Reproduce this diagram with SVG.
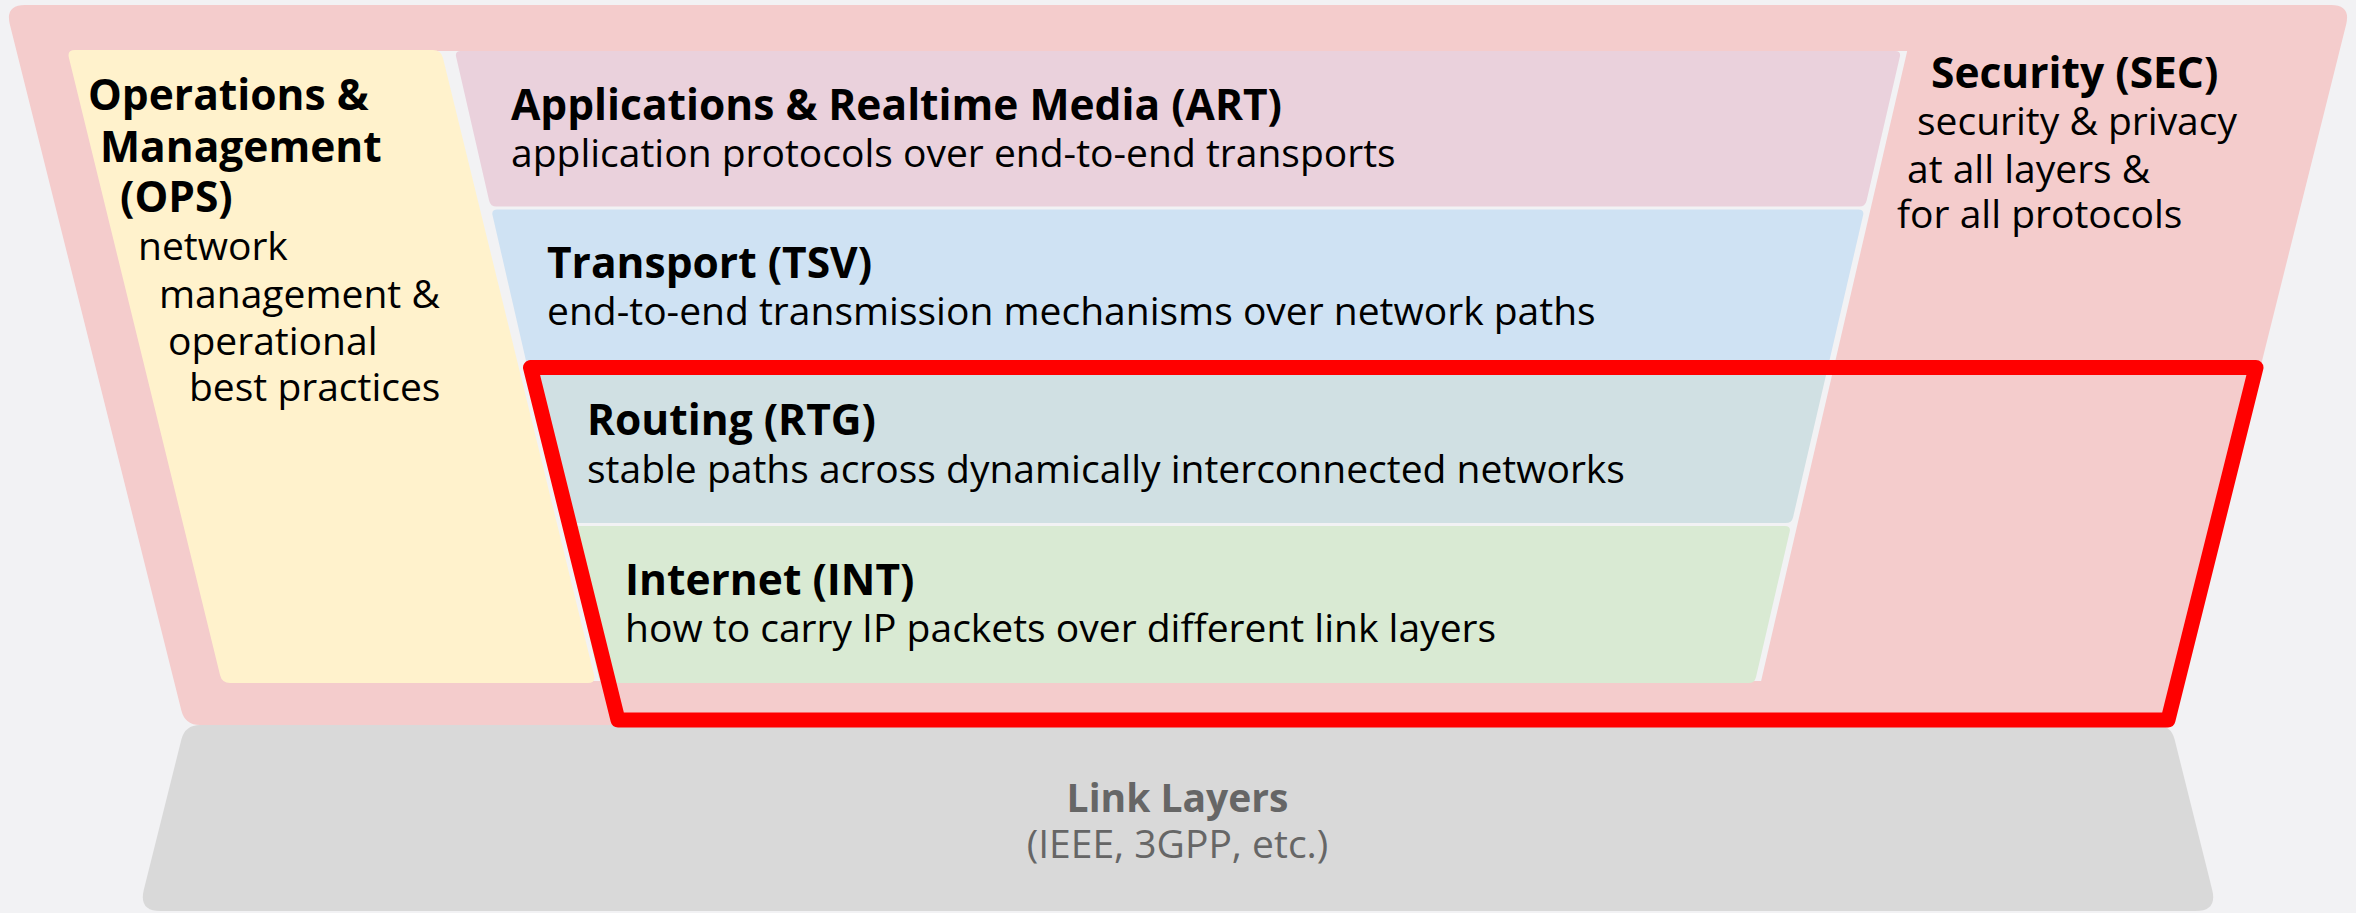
<svg xmlns="http://www.w3.org/2000/svg" width="2356" height="913" viewBox="0 0 2356 913">
  <style>
    text { font-family: "Open Sans", "Noto Sans", "DejaVu Sans", sans-serif; font-size: 39px; fill: #000; }
    .b { font-weight: bold; font-size: 42.5px; }
    .lb { font-weight: bold; }
    .link { fill: #666666; }
  </style>
  <rect id="background" x="0" y="0" width="2356" height="913" fill="#f2f2f4"/>

  <g id="sec">
    <path d="M 25,5 L 2331,5 Q 2351,5 2346.15,24.4 L 2174.64,710.45 Q 2171,725 2156,725 L 200,725 Q 185,725 181.36,710.45 L 9.85,24.4 Q 5,5 25,5 Z" fill="#f4cccc"/>
    <polygon points="435,51 1907.2,51 1761.1,681 589.6,681" fill="#f2f2f4"/>
    <text class="b" x="1931" y="88">Security (SEC)</text>
    <text x="1917" y="135">security &amp; privacy</text>
    <text x="1907" y="183">at all layers &amp;</text>
    <text x="1897" y="228">for all protocols</text>
  </g>

  <g id="link">
    <path d="M 200,725 L 2156,725 Q 2171,725 2174.64,739.55 L 2212.17,889.66 Q 2217.5,911 2195.5,911 L 160.5,911 Q 138.5,911 143.83,889.66 L 181.36,739.55 Q 185,725 200,725 Z" fill="#d9d9d9"/>
    <text class="lb link" x="1177.5" y="812" text-anchor="middle">Link Layers</text>
    <text class="link" x="1177.5" y="858" text-anchor="middle">(IEEE, 3GPP, etc.)</text>
  </g>

  <g id="ops">
    <path d="M 75,50 L 433,50 Q 441,50 442.9,57.77 L 594.1,675.23 Q 596,683 588,683 L 230,683 Q 222,683 220.1,675.23 L 68.9,57.77 Q 67,50 75,50 Z" fill="#fff2cc"/>
    <text class="b" x="88" y="110">Operations &amp;</text>
    <text class="b" x="100" y="162">Management</text>
    <text class="b" x="120" y="212">(OPS)</text>
    <text x="138" y="260">network</text>
    <text x="159" y="308">management &amp;</text>
    <text x="168" y="355">operational</text>
    <text x="189" y="401">best practices</text>
  </g>

  <g id="art">
    <path d="M 460.77,51 L 1895.2,51 Q 1901.2,51 1899.84,56.85 L 1866.56,200.65 Q 1865.2,206.5 1859.2,206.5 L 496.5,206.5 Q 490.5,206.5 489.16,200.65 L 456.12,56.85 Q 454.77,51 460.77,51 Z" fill="#ead1dc"/>
    <text class="b" x="511" y="120">Applications &amp; Realtime Media (ART)</text>
    <text x="511" y="167">application protocols over end-to-end transports</text>
  </g>

  <g id="tsv">
    <path d="M 497.2,209.5 L 1858.46,209.5 Q 1864.46,209.5 1863.1,215.35 L 1829.28,361.15 Q 1827.92,367 1821.92,367 L 533.45,367 Q 527.45,367 526.1,361.15 L 492.55,215.35 Q 491.2,209.5 497.2,209.5 Z" fill="#cfe2f3"/>
    <text class="b" x="547" y="278">Transport (TSV)</text>
    <text x="547" y="325">end-to-end transmission mechanisms over network paths</text>
  </g>

  <g id="rtg">
    <path d="M 533.22,366 L 1822.15,366 Q 1828.15,366 1826.79,371.85 L 1793.09,517.15 Q 1791.73,523 1785.73,523 L 569.33,523 Q 563.33,523 561.99,517.15 L 528.57,371.85 Q 527.22,366 533.22,366 Z" fill="#d0e0e3"/>
    <text class="b" x="587" y="435">Routing (RTG)</text>
    <text x="587" y="483">stable paths across dynamically interconnected networks</text>
  </g>

  <g id="int">
    <path d="M 570.02,526 L 1785.03,526 Q 1791.03,526 1789.67,531.85 L 1755.97,677.15 Q 1754.61,683 1748.61,683 L 606.13,683 Q 600.13,683 598.79,677.15 L 565.37,531.85 Q 564.02,526 570.02,526 Z" fill="#d9ead3"/>
    <text class="b" x="625" y="595">Internet (INT)</text>
    <text x="625" y="642">how to carry IP packets over different link layers</text>
  </g>

  <g id="highlight">
    <polygon points="530.5,367.5 2256,367.5 2168,720 618,720" fill="none" stroke="#ff0000" stroke-width="15" stroke-linejoin="round"/>
  </g>
</svg>
